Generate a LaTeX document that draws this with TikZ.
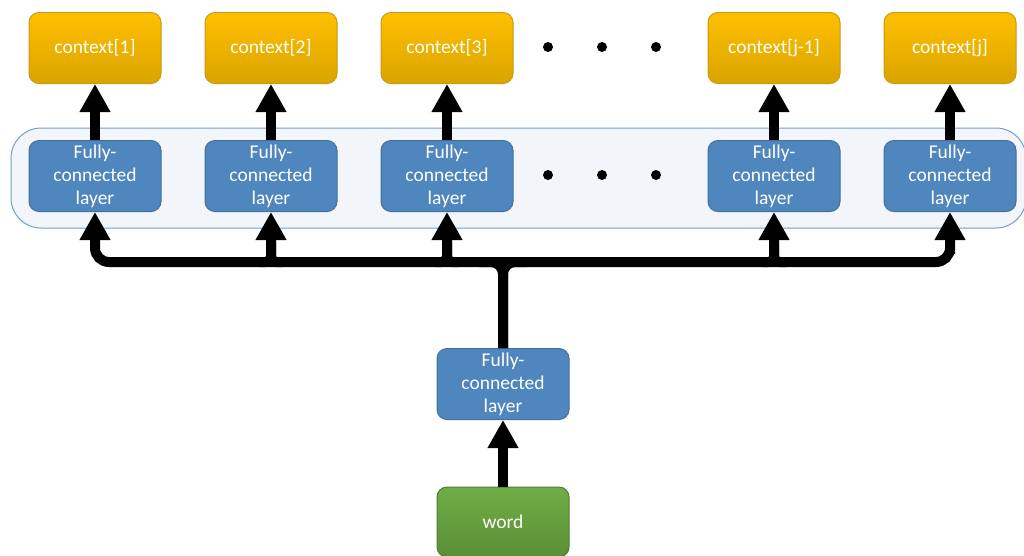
\documentclass[tikz,border=0pt]{standalone}
\usepackage{fontspec}
\setmainfont{Carlito}
\usetikzlibrary{arrows.meta,calc}
\definecolor{goldA}{HTML}{FFC000}
\definecolor{goldB}{HTML}{DAA400}
\definecolor{goldLine}{HTML}{C79A10}
\definecolor{fcFill}{HTML}{4F86BE}
\definecolor{fcLine}{HTML}{41719C}
\definecolor{greenA}{HTML}{70AD47}
\definecolor{greenB}{HTML}{5A8F35}
\definecolor{greenLine}{HTML}{507E32}
\definecolor{groupFill}{HTML}{F2F5FA}
\definecolor{groupLine}{HTML}{6F9FD2}
\begin{document}
\begin{tikzpicture}[x=1pt,y=-1pt,
  box/.style={rounded corners=10pt, minimum width=132pt, minimum height=71pt,
    inner sep=0pt, text=white, align=center, font=\fontsize{19.5}{23}\selectfont, line width=1pt},
  ctx/.style={box, draw=goldLine, top color=goldA, bottom color=goldB},
  fc/.style={box, draw=fcLine, fill=fcFill},
  wordbox/.style={box, minimum height=70pt, draw=greenLine, top color=greenA, bottom color=greenB},
  dotmark/.style={circle, fill=black, minimum size=10pt, inner sep=0pt},
  wire/.style={line width=10pt, black},
  arr/.style={wire, -{Triangle[width=29pt,length=28pt]}},
]
\useasboundingbox (0,0) rectangle (1024,555);

% group frame around the parallel layers
\draw[groupLine, fill=groupFill, line width=1pt, rounded corners=30pt] (11,128) rectangle (1026,228);

% output boxes
\node[ctx] (c1) at (95,48) {context[1]};
\node[ctx] (c2) at (271,48) {context[2]};
\node[ctx] (c3) at (447,48) {context[3]};
\node[ctx] (c4) at (774,48) {context[j-1]};
\node[ctx] (c5) at (950,48) {context[j]};

% parallel fully-connected layers
\node[fc] (f1) at (95,176) {Fully-\\connected\\layer};
\node[fc] (f2) at (271,176) {Fully-\\connected\\layer};
\node[fc] (f3) at (447,176) {Fully-\\connected\\layer};
\node[fc] (f4) at (774,176) {Fully-\\connected\\layer};
\node[fc] (f5) at (950,176) {Fully-\\connected\\layer};

% shared layer and input
\node[fc] (m) at (503,384) {Fully-\\connected\\layer};
\node[wordbox] (w) at (503,522) {word};

% ellipses
\node[dotmark] (d1) at (548,47) {};
\node[dotmark] (d2) at (602,47) {};
\node[dotmark] (d3) at (656,47) {};
\node[dotmark] (e1) at (548,175) {};
\node[dotmark] (e2) at (602,175) {};
\node[dotmark] (e3) at (656,175) {};

% layer -> context arrows
\foreach \i in {1,...,5} {
  \draw[arr] (f\i.north) -- (c\i.south);
}

% word -> shared layer
\draw[arr] (w.north) -- (m.south);

% bus level and branch points
\coordinate (busL) at (95,262);
\coordinate (busR) at (950,262);

% main bus with its two end branches
\draw[wire, rounded corners=14pt, {Triangle[width=29pt,length=28pt]}-{Triangle[width=29pt,length=28pt]}]
  (f1.south) |- (busR) -| (f5.south);

% inner branches with small fillets
\foreach \i in {2,3,4} {
  \draw[arr, rounded corners=6pt] ($(f\i.south|-busL)+(-12,0)$) -| (f\i.south);
  \draw[wire, rounded corners=6pt] ($(f\i.south|-busL)+(12,0)$) -| ($(f\i.south)+(0,30)$);
}

% shared layer feeding the bus
\draw[wire, rounded corners=12pt] (m.north) |- ($(m.north|-busL)+(-24,0)$);
\draw[wire, rounded corners=12pt] (m.north) |- ($(m.north|-busL)+(24,0)$);
\end{tikzpicture}
\end{document}
